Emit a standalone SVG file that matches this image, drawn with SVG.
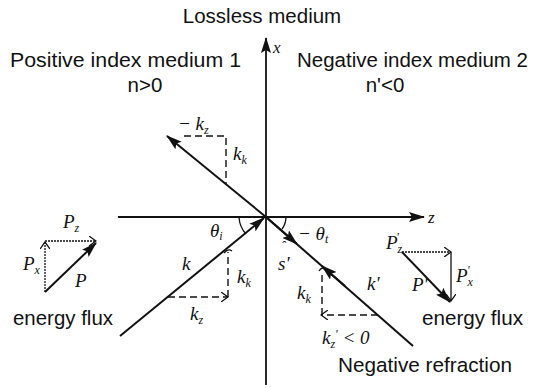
<svg xmlns="http://www.w3.org/2000/svg" width="540" height="388" viewBox="0 0 540 388">
<defs>
<marker id="fa" viewBox="0 0 16 10" refX="15" refY="5" markerWidth="16" markerHeight="10" markerUnits="userSpaceOnUse" orient="auto"><path d="M0,0 L16,5 L0,10 L3,5 Z" fill="#111"/></marker>
<marker id="oa" viewBox="0 0 8 10" refX="7" refY="5" markerWidth="8" markerHeight="10" markerUnits="userSpaceOnUse" orient="auto"><path d="M0,0 L7,5 L0,10" fill="none" stroke="#111" stroke-width="1.3"/></marker>
<style>
.lab{font-family:"Liberation Sans",Arial,sans-serif;font-size:20.5px;fill:#111}
.it{font-family:"Liberation Serif","Times New Roman",serif;font-style:italic;font-size:19px;fill:#111}
.sub{font-size:12px}
.ax{stroke:#111;stroke-width:1.8;fill:none}
.ray{stroke:#111;stroke-width:2;fill:none}
.dash{stroke:#111;stroke-width:1.4;stroke-dasharray:7 4;fill:none}
.dot{stroke:#111;stroke-width:1.3;stroke-dasharray:2 1;fill:none}
.thin{stroke:#111;stroke-width:1.3;fill:none}
</style>
</defs>
<rect width="540" height="388" fill="#fff"/>

<g id="connectors">
<line id="x-axis" class="ax" x1="266" y1="385" x2="266" y2="38" marker-end="url(#fa)"/>
<line id="z-axis" class="ax" x1="118" y1="217" x2="424" y2="217" marker-end="url(#fa)"/>
<line id="reflected" class="ray" x1="266" y1="217" x2="167" y2="136" marker-end="url(#fa)"/>
<line id="incident" class="ray" x1="120" y1="336" x2="264" y2="218" marker-end="url(#fa)"/>
<line id="transmitted" class="ray" x1="266" y1="217" x2="413" y2="346"/>
<line class="ray" x1="266" y1="217" x2="297" y2="244" marker-end="url(#fa)"/>
<line class="ray" x1="345" y1="286" x2="322" y2="266" marker-end="url(#fa)"/>
<path class="dash" d="M184,136 H226 V184"/>
<path class="dash" d="M168,297 H228" marker-end="url(#oa)"/>
<path class="dash" d="M228,297 V252"/>
<path class="thin" d="M224,253 Q228,248 232,251"/>
<path class="dash" d="M378,315 H321" marker-end="url(#oa)"/>
<path class="dash" d="M322,315 V271"/>
<path class="thin" d="M319,271 Q322,266 325,270"/>
<path class="thin" d="M239,217 A27,27 0 0 0 246,234"/>
<path class="thin" d="M286,217 A20,20 0 0 1 282,229"/>
<line class="dot" x1="45" y1="292" x2="45" y2="242" marker-end="url(#oa)"/>
<line class="dot" x1="45" y1="241" x2="96" y2="241" marker-end="url(#oa)"/>
<line class="ray" x1="45" y1="292" x2="96" y2="243" marker-end="url(#fa)"/>
<line class="dot" x1="402" y1="252" x2="451" y2="252" marker-end="url(#oa)"/>
<line class="thin" x1="451" y1="252" x2="451" y2="301" marker-end="url(#oa)"/>
<line class="ray" x1="402" y1="252" x2="450" y2="302" marker-end="url(#fa)"/>
</g>

<g id="title"><text class="lab" x="262" y="23" text-anchor="middle">Lossless medium</text></g>
<g id="medium1">
<text class="lab" x="10" y="67" textLength="231" lengthAdjust="spacingAndGlyphs">Positive index medium 1</text>
<text class="lab" x="145" y="92" text-anchor="middle">n&gt;0</text>
</g>
<g id="medium2">
<text class="lab" x="297" y="67" textLength="231" lengthAdjust="spacingAndGlyphs">Negative index medium 2</text>
<text class="lab" x="385" y="92" text-anchor="middle">n'&lt;0</text>
</g>
<g id="axis-labels">
<text class="it" x="273" y="53" style="font-size:17px">x</text>
<text class="it" x="428" y="223" style="font-size:17px">z</text>
</g>
<g id="reflected-labels">
<text class="it" x="178" y="130">− k<tspan class="sub" dy="4">z</tspan></text>
<text class="it" x="233" y="160">k<tspan class="sub" dy="4">k</tspan></text>
</g>
<g id="incident-labels">
<text class="it" x="210" y="237">θ<tspan class="sub" dy="3">i</tspan></text>
<text class="it" x="182" y="270">k</text>
<text class="it" x="237" y="283">k<tspan class="sub" dy="4">k</tspan></text>
<text class="it" x="190" y="320">k<tspan class="sub" dy="4">z</tspan></text>
</g>
<g id="transmitted-labels">
<text class="it" x="298" y="240">− θ<tspan class="sub" dy="3">t</tspan></text>
<text class="it"><tspan x="281" y="251" style="font-size:14px">ˆ</tspan><tspan x="278" y="270">s'</tspan></text>
<text class="it" x="297" y="299">k<tspan class="sub" dy="4">k</tspan></text>
<text class="it" x="367" y="290">k'</text>
<text class="it" x="322" y="344">k<tspan class="sub" dy="4">z</tspan><tspan dy="-10" class="sub">'</tspan><tspan dy="6"> &lt; 0</tspan></text>
</g>
<g id="energy-flux-1">
<text class="it" x="63" y="228">P<tspan class="sub" dy="4">z</tspan></text>
<text class="it" x="23" y="270">P<tspan class="sub" dy="4">x</tspan></text>
<text class="it" x="75" y="287">P</text>
<text class="lab" x="13" y="325" textLength="100" lengthAdjust="spacingAndGlyphs">energy flux</text>
</g>
<g id="energy-flux-2">
<text class="it" x="386" y="249">P<tspan class="sub" dy="4">z</tspan><tspan class="sub" dx="-6" dy="-12">'</tspan></text>
<text class="it" x="456" y="282">P<tspan class="sub" dy="4">x</tspan><tspan class="sub" dx="-6" dy="-12">'</tspan></text>
<text class="it" x="412" y="291">P'</text>
<text class="lab" x="422" y="325" textLength="101" lengthAdjust="spacingAndGlyphs">energy flux</text>
</g>
<g id="negative-refraction"><text class="lab" x="338" y="372" textLength="174" lengthAdjust="spacingAndGlyphs">Negative refraction</text></g>
</svg>
